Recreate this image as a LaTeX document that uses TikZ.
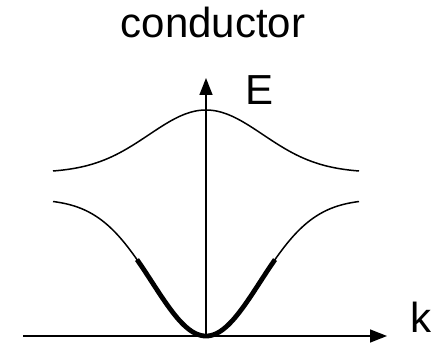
\documentclass[tikz,border=0pt]{standalone}
\usepackage{fontspec}
\setmainfont{Liberation Sans}
\usetikzlibrary{arrows.meta}
\begin{document}
\begin{tikzpicture}[x=1pt,y=-1pt,
  thinline/.style={line width=1.5pt},
  thickline/.style={line width=4.8pt},
  axis/.style={line width=1.5pt,-{Triangle[length=17pt,width=13pt]}},
  lbl/.style={inner sep=0pt,anchor=base west,font=\fontsize{42}{48}\selectfont},
  declare function={
    up(\t)=171-61*((exp(-0.5*(\t/57)^2)-exp(-0.5*(153/57)^2))/(1-exp(-0.5*(153/57)^2)));
    lo(\t)=336-134.5*((1-exp(-0.5*(\t/54)^2))/(1-exp(-0.5*(153/54)^2)));
  }]
\useasboundingbox (0,0) rectangle (437,344);
\coordinate (O) at (206,336);
\coordinate (L) at (23,336);
\coordinate (K) at (387,336);
\coordinate (T) at (206,78);
\draw[axis] (L) -- (K);
\draw[axis] (O) -- (T);
\draw[thinline] plot[domain=-153:153,samples=120,smooth] ({206+\x},{up(\x)});
\draw[thinline] plot[domain=-153:153,samples=120,smooth] ({206+\x},{lo(\x)});
\draw[thickline] plot[domain=-69:69,samples=80,smooth] ({206+\x},{lo(\x)});
\node[inner sep=0pt,anchor=base,font=\fontsize{42}{48}\selectfont] (title) at (213,38) {conductor};
\node[lbl] (Elbl) at (245,105) {E};
\node[lbl] (klbl) at (410,333) {k};
\end{tikzpicture}
\end{document}
